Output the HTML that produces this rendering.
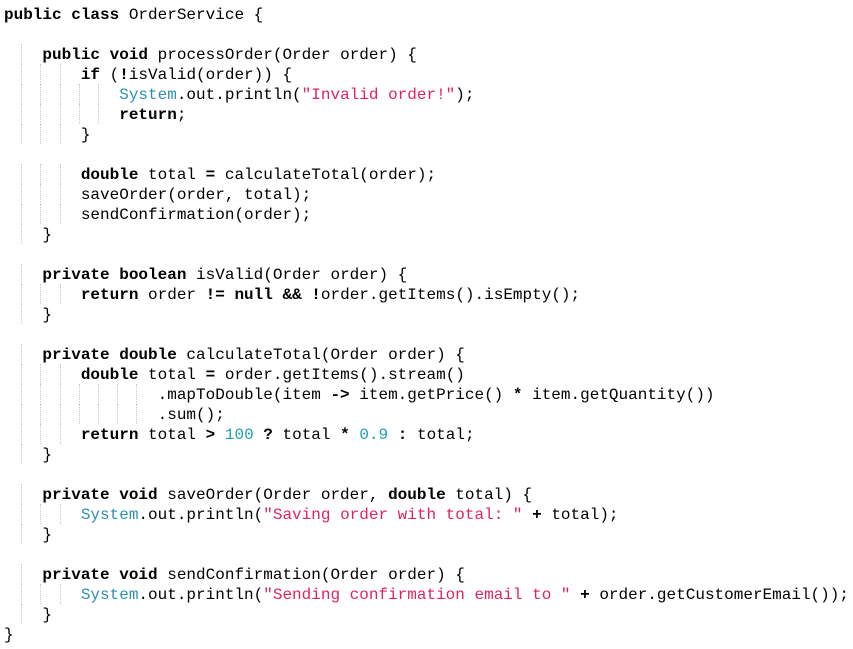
<!DOCTYPE html>
<html><head><meta charset="utf-8"><style>
html,body{margin:0;padding:0;background:#fff;width:853px;height:649px;overflow:hidden}
#c{position:relative;width:853px;height:649px;font-family:"Liberation Mono",monospace;font-size:16px;color:#000}
.l{position:absolute;left:4px;height:20px;line-height:20px;white-space:pre;margin-top:1px}
b{font-weight:bold}
.s{color:#e0245e}.t{color:#2b91af}.n{color:#1a9fb0}
.g{position:absolute;width:0;border-left:1px dotted #c8c8c8;height:20px}
</style></head><body><div id="c">
<div class="l" style="top:4px"><b>public class</b> OrderService {</div>
<div class="l" style="top:44px">    <b>public void</b> processOrder(Order order) {</div>
<div class="l" style="top:64px">        <b>if</b> (<b>!</b>isValid(order)) {</div>
<div class="l" style="top:84px">            <span class="t">System</span>.out.println(<span class="s">"Invalid order!"</span>);</div>
<div class="l" style="top:104px">            <b>return</b>;</div>
<div class="l" style="top:124px">        }</div>
<div class="l" style="top:164px">        <b>double</b> total <b>=</b> calculateTotal(order);</div>
<div class="l" style="top:184px">        saveOrder(order, total);</div>
<div class="l" style="top:204px">        sendConfirmation(order);</div>
<div class="l" style="top:224px">    }</div>
<div class="l" style="top:264px">    <b>private boolean</b> isValid(Order order) {</div>
<div class="l" style="top:284px">        <b>return</b> order <b>!=</b> <b>null</b> <b>&amp;&amp;</b> <b>!</b>order.getItems().isEmpty();</div>
<div class="l" style="top:304px">    }</div>
<div class="l" style="top:344px">    <b>private double</b> calculateTotal(Order order) {</div>
<div class="l" style="top:364px">        <b>double</b> total <b>=</b> order.getItems().stream()</div>
<div class="l" style="top:384px">                .mapToDouble(item <b>-&gt;</b> item.getPrice() <b>*</b> item.getQuantity())</div>
<div class="l" style="top:404px">                .sum();</div>
<div class="l" style="top:424px">        <b>return</b> total <b>&gt;</b> <span class="n">100</span> <b>?</b> total <b>*</b> <span class="n">0.9</span> <b>:</b> total;</div>
<div class="l" style="top:444px">    }</div>
<div class="l" style="top:484px">    <b>private void</b> saveOrder(Order order, <b>double</b> total) {</div>
<div class="l" style="top:504px">        <span class="t">System</span>.out.println(<span class="s">"Saving order with total: "</span> <b>+</b> total);</div>
<div class="l" style="top:524px">    }</div>
<div class="l" style="top:564px">    <b>private void</b> sendConfirmation(Order order) {</div>
<div class="l" style="top:584px">        <span class="t">System</span>.out.println(<span class="s">"Sending confirmation email to "</span> <b>+</b> order.getCustomerEmail());</div>
<div class="l" style="top:604px">    }</div>
<div class="l" style="top:624px">}</div>
</div>
<script>
var spec=[[44,4],[64,8],[84,12],[104,12],[124,8],[164,8],[184,8],[204,8],[224,4],[264,4],[284,8],[304,4],[344,4],[364,8],[384,16],[404,16],[424,8],[444,4],[484,4],[504,8],[524,4],[564,4],[584,8],[604,4]];
var c=document.getElementById('c');
spec.forEach(function(s){for(var k=2;k<s[1];k+=2){var d=document.createElement('div');d.className='g';d.style.top=s[0]+'px';d.style.left=Math.round(3+k*9.6-1)+'px';c.appendChild(d);}});
</script>
</body></html>
